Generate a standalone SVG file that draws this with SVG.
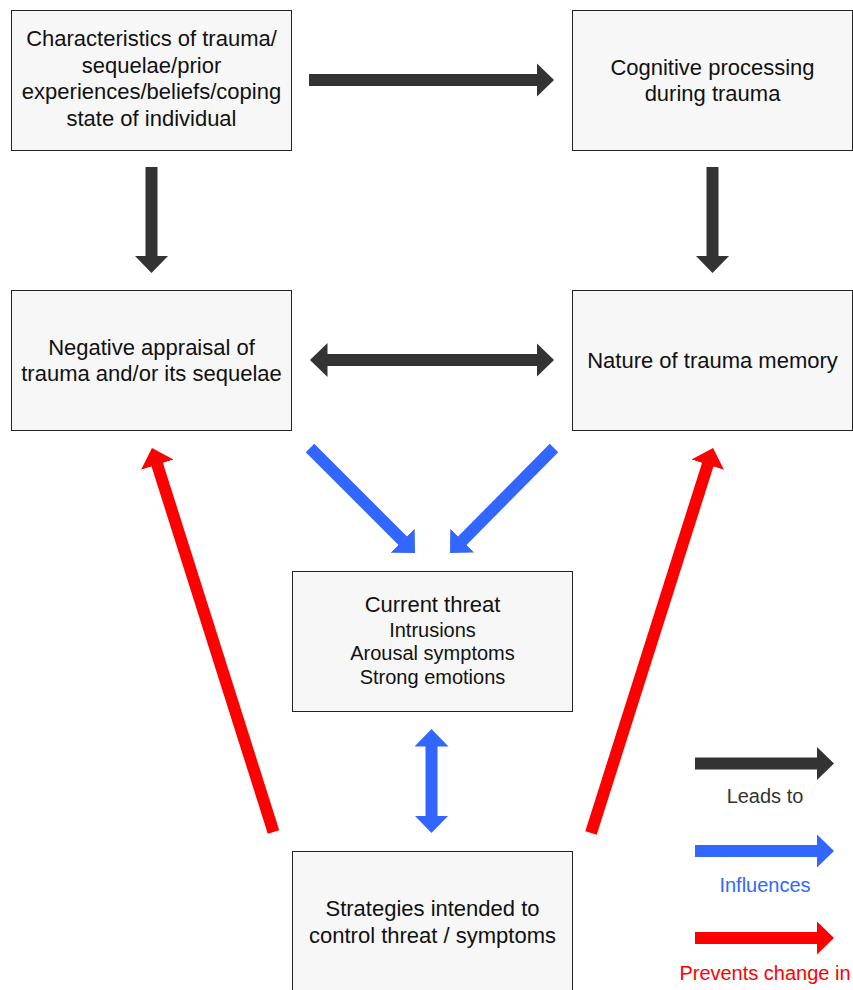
<svg xmlns="http://www.w3.org/2000/svg" width="853" height="990" viewBox="0 0 853 990">
<style>
.box{fill:#f7f7f7;stroke:#222;stroke-width:1}
.t{font-family:"Liberation Sans",Arial,sans-serif;font-size:22px;fill:#111;text-anchor:middle}
.s{font-size:20px}
.lg{font-family:"Liberation Sans",Arial,sans-serif;font-size:20px;text-anchor:middle}
.k{stroke:#333;stroke-width:12;fill:none}
.b{stroke:#3366ff;stroke-width:12;fill:none}
.r{stroke:#ff0000;stroke-width:12;fill:none}
</style>
<defs>
<marker id="mk" markerUnits="userSpaceOnUse" viewBox="0 0 18 34" markerWidth="18" markerHeight="34" refX="0.5" refY="17" orient="auto-start-reverse"><path d="M0,0 L17.5,17 L0,34 z" fill="#333"/></marker>
<marker id="mb" markerUnits="userSpaceOnUse" viewBox="0 0 18 34" markerWidth="18" markerHeight="34" refX="0.5" refY="17" orient="auto-start-reverse"><path d="M0,0 L17.5,17 L0,34 z" fill="#3366ff"/></marker>
<marker id="mr" markerUnits="userSpaceOnUse" viewBox="0 0 18 34" markerWidth="18" markerHeight="34" refX="0.5" refY="17" orient="auto-start-reverse"><path d="M0,0 L17.5,17 L0,34 z" fill="#ff0000"/></marker>
</defs>
<rect width="853" height="990" fill="#fff"/>
<g id="n1"><rect class="box" x="11.5" y="10.5" width="280" height="140"/>
<text class="t" x="151.5" y="46">Characteristics of trauma/</text>
<text class="t" x="151.5" y="72.5">sequelae/prior</text>
<text class="t" x="151.5" y="99">experiences/beliefs/coping</text>
<text class="t" x="151.5" y="125.5">state of individual</text></g>
<g id="n2"><rect class="box" x="572.5" y="10.5" width="280" height="140"/>
<text class="t" x="712.5" y="74.5">Cognitive processing</text>
<text class="t" x="712.5" y="101">during trauma</text></g>
<g id="n3"><rect class="box" x="11.5" y="290.5" width="280" height="140"/>
<text class="t" x="151.5" y="354.5">Negative appraisal of</text>
<text class="t" x="151.5" y="381">trauma and/or its sequelae</text></g>
<g id="n4"><rect class="box" x="572.5" y="290.5" width="280" height="140"/>
<text class="t" x="712.5" y="367.5">Nature of trauma memory</text></g>
<g id="n5"><rect class="box" x="292.5" y="571.5" width="280" height="140"/>
<text class="t" x="432.5" y="612">Current threat</text>
<text class="t s" x="432.5" y="636.5">Intrusions</text>
<text class="t s" x="432.5" y="660">Arousal symptoms</text>
<text class="t s" x="432.5" y="684">Strong emotions</text></g>
<g id="n6"><rect class="box" x="292.5" y="851.5" width="280" height="140"/>
<text class="t" x="432.5" y="916">Strategies intended to</text>
<text class="t" x="432.5" y="942.5">control threat / symptoms</text></g>
<g id="connectors">
<line class="k" x1="309" y1="80" x2="537" y2="80" marker-end="url(#mk)"/>
<line class="k" x1="327" y1="360" x2="537" y2="360" marker-start="url(#mk)" marker-end="url(#mk)"/>
<line class="k" x1="151.5" y1="167" x2="151.5" y2="256" marker-end="url(#mk)"/>
<line class="k" x1="712.5" y1="167" x2="712.5" y2="256" marker-end="url(#mk)"/>
<line class="b" x1="310" y1="448" x2="403" y2="541" marker-end="url(#mb)"/>
<line class="b" x1="554" y1="448" x2="462" y2="541" marker-end="url(#mb)"/>
<line class="b" x1="431.5" y1="746" x2="431.5" y2="816" marker-start="url(#mb)" marker-end="url(#mb)"/>
<line class="r" x1="273.5" y1="832" x2="157.1" y2="464.2" marker-end="url(#mr)"/>
<line class="r" x1="591" y1="833" x2="707.9" y2="464.2" marker-end="url(#mr)"/>
</g>
<g id="legend">
<line class="k" x1="695" y1="763.5" x2="817" y2="763.5" marker-end="url(#mk)"/>
<text class="lg" x="765" y="803" fill="#333">Leads to</text>
<line class="b" x1="695" y1="851" x2="817" y2="851" marker-end="url(#mb)"/>
<text class="lg" x="765" y="892" fill="#3366ff">Influences</text>
<line class="r" x1="695" y1="938" x2="817" y2="938" marker-end="url(#mr)"/>
<text class="lg" x="765" y="980" fill="#ff0000">Prevents change in</text>
</g>
</svg>
